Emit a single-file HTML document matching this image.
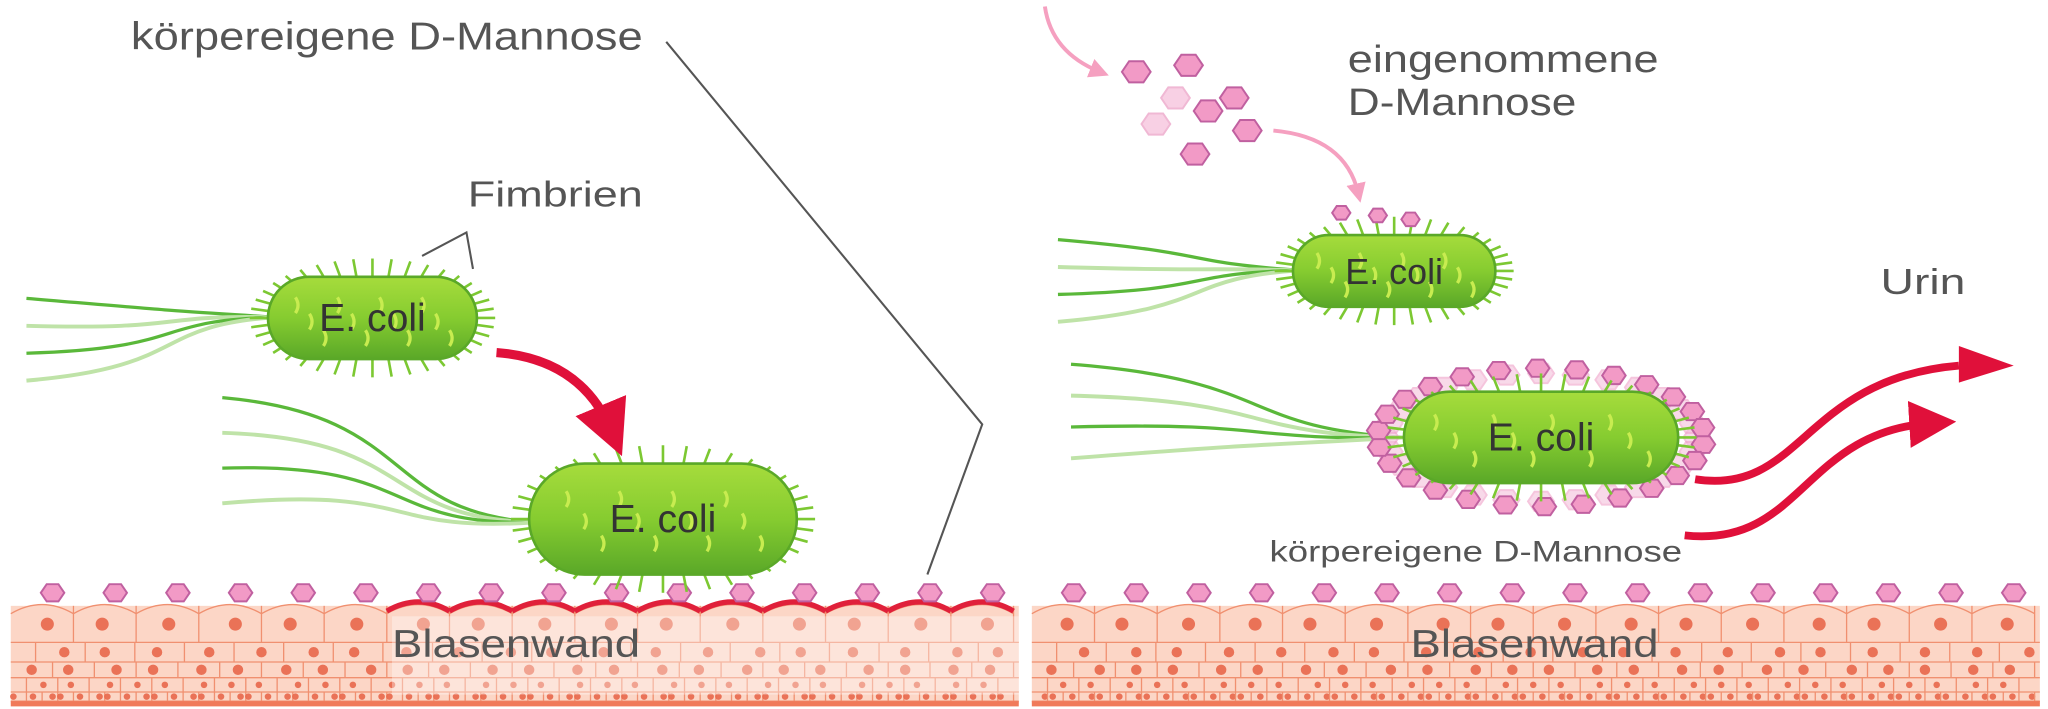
<!DOCTYPE html>
<html><head><meta charset="utf-8"><style>
html,body{margin:0;padding:0;background:#fff;width:2048px;height:709px;overflow:hidden}
svg{display:block}
text{font-family:"Liberation Sans",sans-serif;fill:#555}
</style></head><body>
<svg id="s" width="2048" height="709" viewBox="0 0 1568 543" xmlns="http://www.w3.org/2000/svg">
<defs>
<linearGradient id="g" x1="0" y1="0" x2="0" y2="1"><stop offset="0" stop-color="#a6dc3c"/><stop offset="0.5" stop-color="#86cc30"/><stop offset="1" stop-color="#5aa828"/></linearGradient>
<marker id="ar" markerWidth="6" markerHeight="6" refX="3" refY="3" orient="auto"><path d="M0,0L6,3L0,6z" fill="#e0103a"/></marker>
<marker id="ap" markerWidth="5" markerHeight="5" refX="2.5" refY="2.5" orient="auto"><path d="M0,0L5,2.5L0,5z" fill="#f5a0c0"/></marker>
</defs>
<g id="tissue"></g>
<g id="bact"></g>
<!-- left labels -->
<text x="100" y="38" font-size="30" textLength="392" lengthAdjust="spacingAndGlyphs">körpereigene D-Mannose</text>
<polyline points="510,32 752,325 710,440" fill="none" stroke="#555" stroke-width="1.6"/>
<text x="358" y="158" font-size="28" textLength="134" lengthAdjust="spacingAndGlyphs">Fimbrien</text>
<polyline points="323,196 357,178 362,206" fill="none" stroke="#555" stroke-width="1.6"/>
<path d="M380,270 Q445,275 468,330" fill="none" stroke="#e0103a" stroke-width="7" marker-end="url(#ar)"/>
<text x="300" y="503" font-size="30" textLength="190" lengthAdjust="spacingAndGlyphs">Blasenwand</text>
<!-- right labels -->
<path d="M800,5 Q805,40 842,55" fill="none" stroke="#f5a0c0" stroke-width="3" marker-end="url(#ap)"/>
<text x="1032" y="55" font-size="29" textLength="238" lengthAdjust="spacingAndGlyphs">eingenommene</text>
<text x="1032" y="88" font-size="29" textLength="175" lengthAdjust="spacingAndGlyphs">D-Mannose</text>
<path d="M975,100 Q1030,105 1040,148" fill="none" stroke="#f5a0c0" stroke-width="3" marker-end="url(#ap)"/>
<text x="1440" y="225" font-size="28" textLength="65" lengthAdjust="spacingAndGlyphs">Urin</text>
<text x="972" y="430" font-size="23" textLength="316" lengthAdjust="spacingAndGlyphs">körpereigene D-Mannose</text>
<text x="1080" y="503" font-size="30" textLength="190" lengthAdjust="spacingAndGlyphs">Blasenwand</text>
<path d="M1298,367 C1380,380 1380,290 1500,280" fill="none" stroke="#e0103a" stroke-width="6"/>
<path d="M1290,410 C1380,420 1380,330 1480,324" fill="none" stroke="#e0103a" stroke-width="6" marker-end="url(#ar)"/>
<path d="M1500,265 L1542,280 L1500,293 z" fill="#e0103a"/>
</svg>
<script>
const NS="http://www.w3.org/2000/svg";
function el(p,t,a){const e=document.createElementNS(NS,t);for(const k in a)e.setAttribute(k,a[k]);p.appendChild(e);return e;}
function hex(p,cx,cy,r,fill,stroke,op){let pts=[];for(let i=0;i<6;i++){let a=Math.PI/3*i;pts.push((cx+r*Math.cos(a)).toFixed(1)+","+(cy+r*0.85*Math.sin(a)).toFixed(1));}
el(p,"polygon",{points:pts.join(" "),fill:fill,stroke:stroke,"stroke-width":1.5,opacity:op||1});}
const T=document.getElementById("tissue");
function tissue(x0,x1,red){
 el(T,"rect",{x:x0,y:464,width:x1-x0,height:75,fill:"#fcd6c6"});
 const rows=[[464,492,48],[492,507,38],[507,519,32],[519,530,24],[530,537,12]];
 rows.forEach((r,ri)=>{let w=r[2];let off=(ri%2)*w/2;
  el(T,"line",{x1:x0,y1:r[1],x2:x1,y2:r[1],stroke:"#f09070","stroke-width":1});
  for(let x=x0-off;x<x1;x+=w){ if(x>x0) el(T,"line",{x1:x,y1:r[0],x2:x,y2:r[1],stroke:"#f09070","stroke-width":1});
   let cx=x+w/2; if(cx>x0+4&&cx<x1-4) el(T,"circle",{cx:cx+((ri*7+x)%9-4),cy:(r[0]+r[1])/2,r:ri==0?5:(ri<3?4:2.5),fill:"#e8674a",opacity:0.9});}
 });
 for(let x=x0;x<x1-10;x+=48){el(T,"path",{d:`M${x},470 Q${x+24},456 ${Math.min(x+48,x1)},470`,fill:"#fcd6c6",stroke:"#f09070","stroke-width":1});}
 el(T,"rect",{x:x0,y:537,width:x1-x0,height:4,fill:"#f07a5a"});
 if(red) for(let x=red;x<x1-10;x+=48){el(T,"path",{d:`M${x},468 Q${x+24},454 ${Math.min(x+48,x1)},468`,fill:"none",stroke:"#e0203a","stroke-width":4});}
 for(let x=x0+32;x<x1;x+=48) hex(T,x,454,9,"#f29ac6","#c060a0");
 if(red) el(T,"rect",{x:300,y:472,width:480,height:60,fill:"#fff",opacity:0.35});
}
tissue(8,780,296);tissue(790,1562,0);
const B=document.getElementById("bact");
function flag(x0,y0,x1,y1,spread){for(let i=0;i<4;i++){let dy=(i-1.5)*spread;
 el(B,"path",{d:`M${x0},${y0} C${(x0+x1)/2},${y0+dy*0.3} ${(x0+x1)/2+30},${y1+dy} ${x1},${y1+dy*1.5}`,fill:"none",stroke:i%2?"#bfe3a8":"#5ab83a","stroke-width":i%2?3:2.5});}}
function bact(x,y,w,h,ring){
 if(ring){for(let i=0;i<28;i++){let a=i/28*Math.PI*2;hex(B,x+w/2+Math.cos(a)*(w/2+14),y+h/2+Math.sin(a)*(h/2+14),10,"#f5c0dc","#f0a0c8",0.6);}
  for(let i=0;i<26;i++){let a=i/26*Math.PI*2+0.1;hex(B,x+w/2+Math.cos(a)*(w/2+20),y+h/2+Math.sin(a)*(h/2+18),9,"#f29ac6","#c060a0");}}
 for(let i=0;i<40;i++){let a=i/40*Math.PI*2;let cx=x+w/2,cy=y+h/2;let rx=w/2,ry=h/2;
  let sx=cx+Math.cos(a)*rx*0.95,sy=cy+Math.sin(a)*ry*0.95,ex=cx+Math.cos(a)*(rx+14),ey=cy+Math.sin(a)*(ry+14);
  el(B,"line",{x1:sx,y1:sy,x2:ex,y2:ey,stroke:"#7cc832","stroke-width":2});}
 el(B,"rect",{x:x,y:y,width:w,height:h,rx:h/2,fill:"url(#g)",stroke:"#5aa828","stroke-width":2});
 for(let i=0;i<12;i++){el(B,"path",{d:`M${x+h/3+i*(w-h/1.5)/11},${y+h*(0.25+(i%3)*0.2)} q4,6 0,12`,fill:"none",stroke:"#c8ec50","stroke-width":2.5});}
 let t=el(B,"text",{x:x+w/2,y:y+h/2+10,"text-anchor":"middle","font-size":Math.min(30,h*0.5)});t.style.fill="#333";t.textContent="E. coli";
}
flag(210,243,20,260,14);bact(205,212,160,63);
flag(410,400,170,345,18);bact(405,355,205,85);
flag(995,207,810,215,14);bact(990,180,155,55);
[[1027,163],[1055,165],[1080,168]].forEach(p=>hex(B,p[0],p[1],7,"#f29ac6","#c060a0"));
flag(1075,335,820,315,16);bact(1075,300,210,70,true);
[[870,55],[910,50],[885,95],[925,85],[955,100],[900,75],[945,75],[915,118]].forEach((p,i)=>hex(B,p[0],p[1],11,i%3==2?"#f8d0e4":"#f29ac6",i%3==2?"#f0b8d4":"#c060a0"));
</script>
</body></html>
